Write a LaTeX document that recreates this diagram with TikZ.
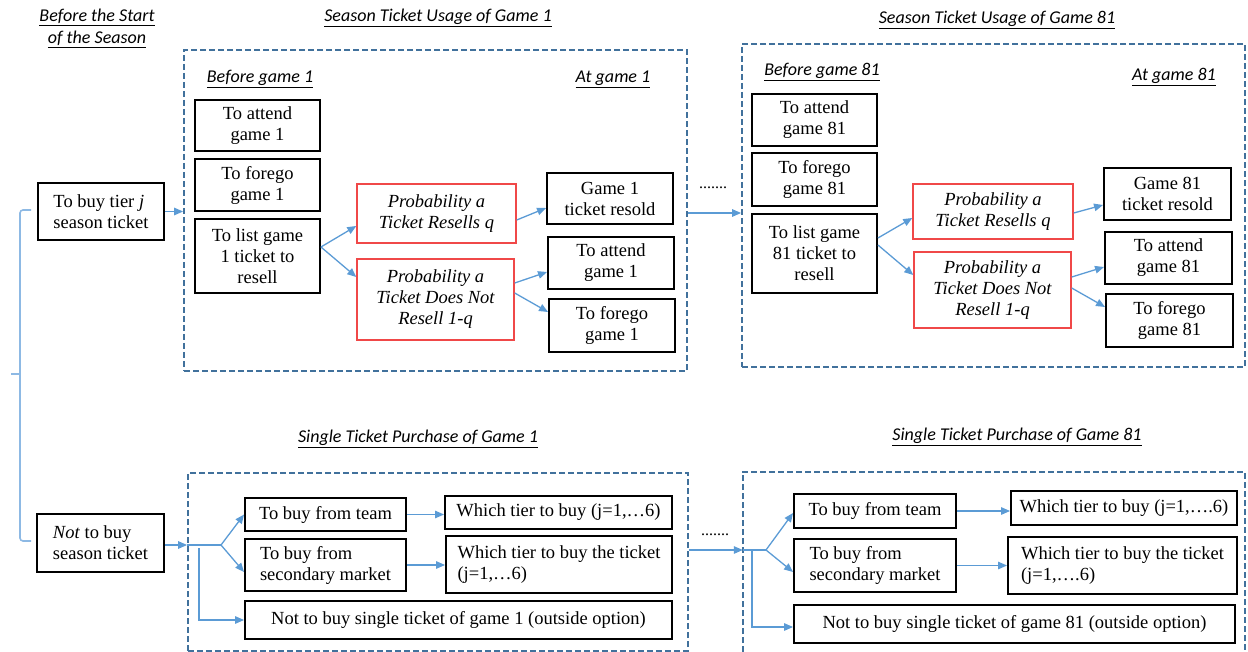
\documentclass[tikz,border=0pt]{standalone}
\usepackage{fontspec}
\setmainfont{Liberation Serif}
\newfontfamily\calib{Carlito}
\usetikzlibrary{arrows.meta,calc}
\definecolor{arrblue}{HTML}{5B9BD5}
\definecolor{dashblue}{HTML}{41719C}
\definecolor{redb}{HTML}{F04848}
\definecolor{brcblue}{HTML}{8DB9E4}
\begin{document}
\begin{tikzpicture}[x=1pt,y=-1pt,
  box/.style 2 args={draw=black, line width=1.9pt, minimum width=#1, minimum height=#2,
     inner sep=0pt, align=center, font=\fontsize{18.5}{21}\selectfont},
  rbox/.style 2 args={draw=redb, line width=1.4pt, minimum width=#1, minimum height=#2,
     inner sep=0pt, align=center, font=\fontsize{18.5}{21}\selectfont\itshape},
  dbox/.style 2 args={draw=dashblue, line width=1.8pt, dash pattern=on 6pt off 3pt,
     minimum width=#1, minimum height=#2, inner sep=0pt},
  dline/.style={draw=dashblue, line width=1.8pt, dash pattern=on 6pt off 3pt},
  hdr/.style={font=\calib\itshape\fontsize{18}{22}\selectfont, inner sep=0pt, align=center},
  arr/.style={draw=arrblue, line width=1.3pt, -{Triangle[length=9pt,width=7.5pt]}},
  ln/.style={draw=arrblue, line width=1.3pt},
  brc/.style={draw=brcblue, line width=1.6pt},
  dotsty/.style={font=\fontsize{16}{16}\selectfont, inner sep=0pt}
]
\useasboundingbox (0,0) rectangle (1248,652);

% dashed group boxes
\node[dbox={503}{321}] (sb1) at (435.5,210.5) {};
\node[dbox={503}{323}] (sb2) at (993.5,205.5) {};
\node[dbox={500}{178}] (sp1) at (438,562) {};
\node[draw=none, minimum width=502, minimum height=180, inner sep=0pt] (sp2) at (994,562) {};
\draw[dline] (sp2.south west) -- (sp2.north west) -- (sp2.north east) -- (sp2.south east);

% headers
\node[hdr] (hstart) at (97,28) {\underline{Before the Start}\\\underline{of the Season}};
\node[hdr] (hsb1) at (438,18) {\underline{Season Ticket Usage of Game 1}};
\node[hdr] (hbg1) at (260,79) {\underline{Before game 1}};
\node[hdr] (hag1) at (613,79) {\underline{At game 1}};
\node[hdr] (hsb2) at (997,20) {\underline{Season Ticket Usage of Game 81}};
\node[hdr] (hbg2) at (822,72) {\underline{Before game 81}};
\node[hdr] (hag2) at (1174,77) {\underline{At game 81}};
\node[hdr] (hsp1) at (418,439) {\underline{Single Ticket Purchase of Game 1}};
\node[hdr] (hsp2) at (1017,437) {\underline{Single Ticket Purchase of Game 81}};

% left decision boxes
\node[box={126}{57}, align=left] (buy) at (101,211.5) {To buy tier \textit{j}\\season ticket};
\node[box={127}{58}, align=left] (notbuy) at (100.5,543) {\textit{Not} to buy\\season ticket};

% season game 1
\node[box={125}{51}] (att1) at (257.5,125.5) {To attend\\game 1};
\node[box={125}{52}] (for1) at (257.5,185) {To forego\\game 1};
\node[box={125}{74}] (list1) at (257.5,256) {To list game\\1 ticket to\\resell};
\node[rbox={159}{59}] (res1) at (436.5,213.5) {Probability a\\Ticket Resells q};
\node[rbox={157}{81}] (nres1) at (435.5,299.5) {Probability a\\Ticket Does Not\\Resell 1-q};
\node[box={126}{51}] (sold1) at (610,198.5) {Game 1\\ticket resold};
\node[box={126}{52}] (att1b) at (611,263) {To attend\\game 1};
\node[box={126}{53}] (for1b) at (612,325.5) {To forego\\game 1};

% season game 81
\node[box={125}{52}] (att81) at (814.5,120) {To attend\\game 81};
\node[box={125}{53}] (for81) at (814.5,179.5) {To forego\\game 81};
\node[box={125}{79}] (list81) at (814.5,253.5) {To list game\\81 ticket to\\resell};
\node[rbox={160}{55}] (res81) at (993,211.5) {Probability a\\Ticket Resells q};
\node[rbox={157}{76}] (nres81) at (992.5,290) {Probability a\\Ticket Does Not\\Resell 1-q};
\node[box={127}{52}] (sold81) at (1167.5,194) {Game 81\\ticket resold};
\node[box={127}{52}] (att81b) at (1168.5,258) {To attend\\game 81};
\node[box={127}{53}] (for81b) at (1169.5,320.5) {To forego\\game 81};

% single purchase game 1
\node[box={161}{33}] (team1) at (325.5,514.5) {To buy from team};
\node[box={161}{52}, align=left] (sec1) at (325.5,565) {To buy from\\secondary market};
\node[box={427}{38}] (out1) at (458.5,620) {Not to buy single ticket of game 1 (outside option)};
\node[box={227}{33}] (tier1) at (558.5,512.5) {Which tier to buy (j=1,…6)};
\node[box={226}{57}, align=left] (tiersec1) at (559,564.5) {Which tier to buy the ticket\\(j=1,…6)};

% single purchase game 81
\node[box={162}{34}] (team81) at (875,511) {To buy from team};
\node[box={162}{53}, align=left] (sec81) at (875,565.5) {To buy from\\secondary market};
\node[box={441}{38}] (out81) at (1014.5,624) {Not to buy single ticket of game 81 (outside option)};
\node[box={226}{34}] (tier81) at (1124,508) {Which tier to buy (j=1,….6)};
\node[box={229}{57}, align=left] (tiersec81) at (1122.5,565.5) {Which tier to buy the ticket\\(j=1,….6)};

% dots
\node[dotsty] (dots1) at (713,188) {.......};
\node[dotsty] (dots2) at (715,535) {.......};

% bracket
\coordinate (bm) at (20,374);
\draw[brc, rounded corners=3pt] ([xshift=-6pt,yshift=1.5pt]buy.west) -| (bm) |- ([xshift=-5pt,yshift=2pt]notbuy.west);
\draw[brc] (bm) -- ++(-9,0);

% connectors: season ticket
\draw[arr] (buy.east) -- (buy.east -| sb1.west);
\draw[arr] ([yshift=9pt]list1.east) -- ([yshift=-12.5pt]res1.west);
\draw[arr] ([yshift=9pt]list1.east) -- ([yshift=22.5pt]nres1.west);
\draw[arr] ([yshift=-6.5pt]res1.east) -- ([yshift=-9.5pt]sold1.west);
\draw[arr] ([yshift=16.5pt]nres1.east) -- ([yshift=-9pt]att1b.west);
\draw[arr] ([yshift=6.5pt]nres1.east) -- ([yshift=13.5pt]for1b.west);

\draw[arr] ([yshift=-2.5pt]sb1.east) -- ([yshift=-2.5pt]sb1.east -| sb2.west);
\draw[arr] ([yshift=15.5pt]list81.east) -- ([yshift=-6.5pt]res81.west);
\draw[arr] ([yshift=8.5pt]list81.east) -- ([yshift=15pt]nres81.west);
\draw[arr] ([yshift=-1.5pt]res81.east) -- ([yshift=-11pt]sold81.west);
\draw[arr] ([yshift=13pt]nres81.east) -- ([yshift=-9pt]att81b.west);
\draw[arr] ([yshift=2pt]nres81.east) -- ([yshift=13.5pt]for81b.west);

% connectors: single tickets
\coordinate (f1) at (221,545);
\coordinate (d1) at (199,548);
\draw[arr] ([yshift=-2pt]notbuy.east) -- ([yshift=-2pt]notbuy.east -| sp1.west);
\draw[ln] ([yshift=-2pt]notbuy.east -| sp1.west) -- (f1);
\draw[arr] (f1) -- (team1.west);
\draw[arr] (f1) -- ([yshift=-7pt]sec1.west);
\draw[arr] (d1) |- (out1.west);
\draw[arr] (team1.east) -- (team1.east -| tier1.west);
\draw[arr] (sec1.east) -- (sec1.east -| tiersec1.west);

\coordinate (f2) at (766,550);
\coordinate (d2) at (752,550);
\draw[arr] (sp1.east |- f2) -- (sp2.west |- f2);
\draw[ln] (sp2.west |- f2) -- (f2);
\draw[arr] (f2) -- ([yshift=-2pt]team81.west);
\draw[arr] (f2) -- ([yshift=-6.5pt]sec81.west);
\draw[arr] (d2) |- ([yshift=-3pt]out81.west);
\draw[arr] (team81.east) -- (team81.east -| tier81.west);
\draw[arr] (sec81.east) -- (sec81.east -| tiersec81.west);
\end{tikzpicture}
\end{document}
